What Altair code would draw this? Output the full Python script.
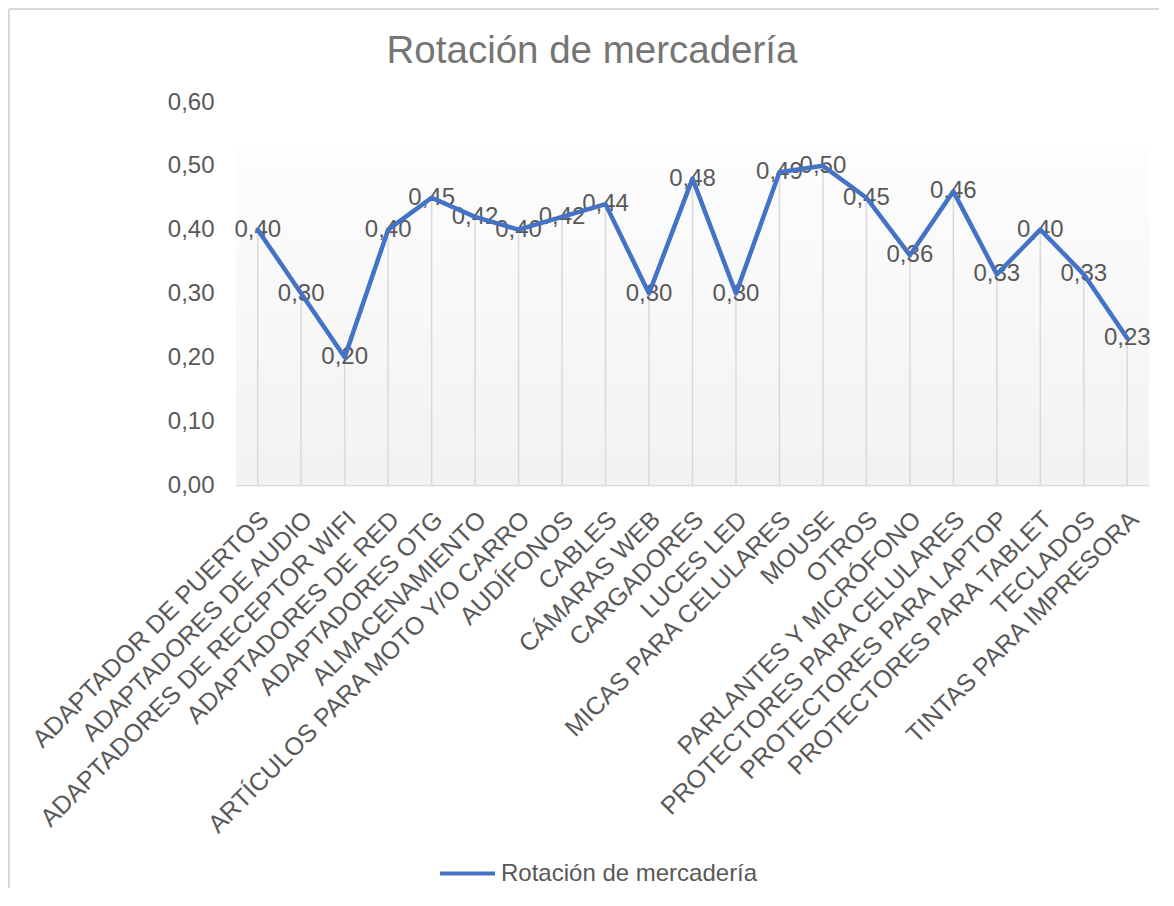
import altair as alt
import pandas as pd

categorias = [
    "ADAPTADOR DE PUERTOS", "ADAPTADORES DE AUDIO", "ADAPTADORES DE RECEPTOR WIFI",
    "ADAPTADORES DE RED", "ADAPTADORES OTG", "ALMACENAMIENTO",
    "ARTÍCULOS PARA MOTO Y/O CARRO", "AUDÍFONOS", "CABLES", "CÁMARAS WEB",
    "CARGADORES", "LUCES LED", "MICAS PARA CELULARES", "MOUSE", "OTROS",
    "PARLANTES Y MICRÓFONO", "PROTECTORES PARA CELULARES", "PROTECTORES PARA LAPTOP",
    "PROTECTORES PARA TABLET", "TECLADOS", "TINTAS PARA IMPRESORA",
]
valores = [0.40, 0.30, 0.20, 0.40, 0.45, 0.42, 0.40, 0.42, 0.44, 0.30,
           0.48, 0.30, 0.49, 0.50, 0.45, 0.36, 0.46, 0.33, 0.40, 0.33, 0.23]
serie = "Rotación de mercadería"
titulo = "Rotación de mercadería"
y_ticks = [0.0, 0.1, 0.2, 0.3, 0.4, 0.5, 0.6]

W, H = 913, 383
FONT = "Liberation Sans"
GRAY = "#595959"
BLUE = "#4472C4"

df = pd.DataFrame({"categoria": categorias, "valor": valores, "serie": [serie] * len(categorias)})

x_enc = alt.X(
    "categoria:N", sort=categorias, title=None,
    axis=alt.Axis(
        labelAngle=-45, labelAlign="right", labelBaseline="middle",
        labelPadding=30, labelOffset=7, ticks=False, tickSize=0, grid=False,
        domainColor="#d9d9d9", domainWidth=1.5, labelFontSize=25, labelColor=GRAY,
        labelLimit=600, labelFont=FONT,
    ),
)
y_scale = alt.Scale(domain=[0, 0.6], nice=False, zero=True)
y_enc = alt.Y(
    "valor:Q", scale=y_scale, title=None,
    axis=alt.Axis(
        values=y_ticks, labelExpr="replace(format(datum.value, '.2f'), '.', ',')",
        domain=False, ticks=False, tickSize=0, grid=False, labelPadding=22,
        labelFontSize=24, labelColor=GRAY, labelFont=FONT,
    ),
)

base = alt.Chart(df)

bg = alt.Chart(alt.Data(values=[{"k": 1}])).mark_rect(
    fill=alt.Gradient(
        gradient="linear", x1=0, x2=0, y1=0, y2=1,
        stops=[alt.GradientStop(color="#fdfdfd", offset=0),
               alt.GradientStop(color="#f2f2f2", offset=1)],
    )
).encode(
    x=alt.value(0), x2=alt.value(W),
    y=alt.datum(0.525, scale=y_scale), y2=alt.datum(0),
)

drops = base.mark_rule(color="#d9d9d9", strokeWidth=1.5).encode(
    x=x_enc, y=y_enc, y2=alt.datum(0)
)

labels = base.transform_calculate(
    etiqueta="replace(format(datum.valor, '.2f'), '.', ',')"
).mark_text(
    fontSize=24, color=GRAY, font=FONT, align="center", baseline="middle"
).encode(x=x_enc, y=y_enc, text="etiqueta:N")

line = base.mark_line(strokeWidth=4.5, strokeCap="round", strokeJoin="round").encode(
    x=x_enc, y=y_enc,
    color=alt.Color(
        "serie:N", scale=alt.Scale(range=[BLUE]),
        legend=alt.Legend(
            orient="none", legendX=202, legendY=742, title=None,
            symbolType="stroke", symbolSize=3025, symbolStrokeWidth=4,
            symbolStrokeColor=BLUE,
            labelFontSize=24, labelColor=GRAY, labelFont=FONT, padding=0,
            labelOffset=4, labelLimit=500,
        ),
    ),
)

title_mark = alt.Chart(alt.Data(values=[{"t": titulo}])).mark_text(
    fontSize=38.5, color="#757575", font=FONT, align="center", baseline="middle"
).encode(x=alt.value(356), y=alt.value(-51), text="t:N")

border_left = alt.Chart(alt.Data(values=[{"k": 1}])).mark_rule(
    color="#d9d9d9", strokeWidth=2
).encode(x=alt.value(-227), y=alt.value(-93), y2=alt.value(H + 403))
border_top = alt.Chart(alt.Data(values=[{"k": 1}])).mark_rule(
    color="#d9d9d9", strokeWidth=2
).encode(x=alt.value(-227), x2=alt.value(W + 10), y=alt.value(-93))

chart = alt.layer(
    bg, drops, labels, line, title_mark, border_left, border_top
).properties(
    width=W, height=H,
    autosize=alt.AutoSizeParams(type="none"),
    padding={"left": 228, "top": 94, "right": 10, "bottom": 403},
).configure(font=FONT, background="white").configure_view(stroke=None)

chart.save("out.html", embed_options={"renderer": "svg", "actions": False})
